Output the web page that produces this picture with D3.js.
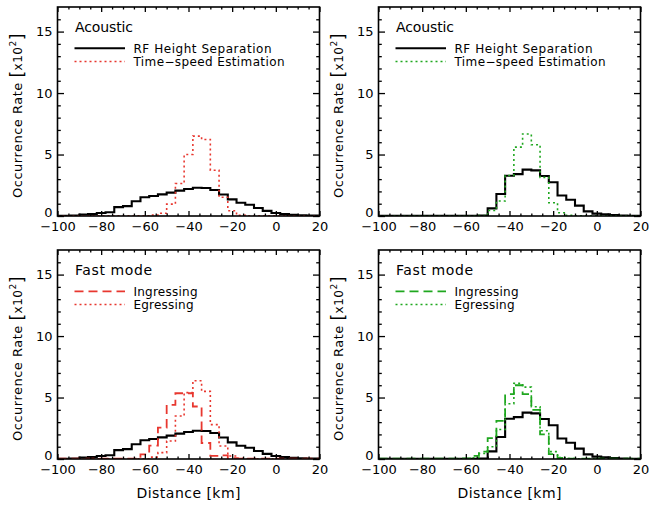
<!DOCTYPE html>
<html><head><meta charset="utf-8">
<script src="https://cdn.jsdelivr.net/npm/d3@7"></script>
<style>
body{margin:0;background:#fff}
svg{display:block}
text{font-family:"DejaVu Sans",sans-serif;fill:#000}
</style>
</head><body>
<svg id="chart" width="649" height="506"></svg>
<script>
// ---- data (occurrence rate, x10^2) ----
const distance = [-100,-96,-92,-88,-84,-80,-76,-72,-68,-64,-60,-56,-52,-48,-44,-40,-36,-32,-28,-24,-20,-16,-12,-8,-4,0,4,8,12,16,20];

const rfLeft   = [0.02,0.02,0.03,0.12,0.15,0.25,0.3,0.72,0.8,1.2,1.52,1.63,1.76,1.9,2.06,2.2,2.3,2.28,2.12,1.75,1.35,1.08,0.92,0.65,0.42,0.24,0.15,0.1,0.06,0.04,0.03];
const tsRed    = [0.02,0.02,0.02,0.02,0.02,0.02,0.02,0.02,0.02,0.02,0.02,0.08,0.22,0.97,2.64,5.0,6.5,6.22,3.72,1.52,0.43,0.06,0.02,0.02,0.02,0.02,0.02,0.02,0.02,0.02,0.02];

const rfRight  = [0.01,0.01,0.01,0.01,0.01,0.01,0.01,0.01,0.01,0.01,0.01,0.01,0.03,0.62,1.79,3.28,3.41,3.77,3.71,3.25,2.74,1.67,1.32,0.84,0.38,0.19,0.14,0.08,0.04,0.02,0.01];
const tsGreen  = [0.02,0.02,0.02,0.02,0.02,0.02,0.02,0.02,0.02,0.02,0.02,0.02,0.03,0.45,1.22,3.3,5.6,6.67,5.8,3.14,1.08,0.27,0.05,0.02,0.02,0.02,0.02,0.02,0.02,0.02,0.02];

const ingRed   = [0.02,0.02,0.02,0.02,0.02,0.02,0.02,0.02,0.02,0.02,0.38,1.08,2.55,4.4,5.35,5.35,4.27,1.3,0.25,0.3,0.06,0.02,0.02,0.02,0.02,0.02,0.02,0.02,0.02,0.02,0.02];
const egrRed   = [0.02,0.02,0.02,0.02,0.02,0.02,0.02,0.02,0.02,0.02,0.02,0.15,0.52,1.47,3.5,5.4,6.36,5.5,2.8,1.06,0.24,0.05,0.02,0.02,0.02,0.02,0.02,0.02,0.02,0.02,0.02];

const ingGreen = [0.02,0.02,0.02,0.02,0.02,0.02,0.02,0.02,0.02,0.02,0.05,0.25,0.6,1.7,3.1,5.27,6.0,5.27,4.0,2.0,0.4,0.08,0.02,0.02,0.02,0.02,0.02,0.02,0.02,0.02,0.02];
const egrGreen = [0.02,0.02,0.02,0.02,0.02,0.02,0.02,0.02,0.02,0.02,0.02,0.1,0.45,1.0,2.4,4.5,6.15,5.85,4.25,2.3,0.6,0.12,0.03,0.02,0.02,0.02,0.02,0.02,0.02,0.02,0.02];

const xTicks = [-100,-80,-60,-40,-20,0,20];
const xMinorTicks = [-95,-90,-85,-75,-70,-65,-55,-50,-45,-35,-30,-25,-15,-10,-5,5,10,15];
const yTicks = [0,5,10,15];
const yMinorTicks = [1,2,3,4,6,7,8,9,11,12,13,14,16];
const xDomain = [-100,20];
const yDomain = [0,17];

const RED = "#e8372f", GREEN = "#1fa71f";
const DOT = "2,3", DASH = "9,5";

const panels = [
  {left:57.5,  top:7,   title:"Acoustic",
   series:[{v:rfLeft,c:"#000",d:null,w:2.1},{v:tsRed,c:RED,d:DOT,w:1.6}],
   legend:[{t:"RF Height Separation",c:"#000",d:null,w:2.1,len:138},{t:"Time\u2212speed Estimation",c:RED,d:DOT,w:1.6,len:151}],
   tlen:58, xtitle:false},
  {left:378.5, top:7,   title:"Acoustic",
   series:[{v:rfRight,c:"#000",d:null,w:2.1},{v:tsGreen,c:GREEN,d:DOT,w:1.6}],
   legend:[{t:"RF Height Separation",c:"#000",d:null,w:2.1,len:138},{t:"Time\u2212speed Estimation",c:GREEN,d:DOT,w:1.6,len:151}],
   tlen:58, xtitle:false},
  {left:57.5,  top:250, title:"Fast mode",
   series:[{v:rfLeft,c:"#000",d:null,w:2.1},{v:ingRed,c:RED,d:DASH,w:1.8},{v:egrRed,c:RED,d:DOT,w:1.6}],
   legend:[{t:"Ingressing",c:RED,d:DASH,w:1.8,len:64},{t:"Egressing",c:RED,d:DOT,w:1.6,len:60}],
   tlen:77, xtitle:true},
  {left:378.5, top:250, title:"Fast mode",
   series:[{v:rfRight,c:"#000",d:null,w:2.1},{v:ingGreen,c:GREEN,d:DASH,w:1.8},{v:egrGreen,c:GREEN,d:DOT,w:1.6}],
   legend:[{t:"Ingressing",c:GREEN,d:DASH,w:1.8,len:64},{t:"Egressing",c:GREEN,d:DOT,w:1.6,len:60}],
   tlen:77, xtitle:true}
];

const PW = 262, PH = 209;
const svg = d3.select("#chart");
svg.append("rect").attr("width",649).attr("height",506).attr("fill","#fff");

panels.forEach((p,i) => {
  const g = svg.append("g").attr("transform",`translate(${p.left},${p.top})`);
  const x = d3.scaleLinear().domain(xDomain).range([0,PW]);
  const y = d3.scaleLinear().domain(yDomain).range([PH,0]);

  const cid = "clip"+i;
  g.append("clipPath").attr("id",cid).append("rect").attr("width",PW).attr("height",PH);

  // histograms
  const line = d3.line().x(d=>x(d[0])).y(d=>y(d[1])).curve(d3.curveStep);
  p.series.forEach(s => {
    g.append("path")
      .attr("clip-path",`url(#${cid})`)
      .attr("d", line(distance.map((dv,k)=>[dv,s.v[k]])))
      .attr("fill","none").attr("stroke",s.c).attr("stroke-width",s.w)
      .attr("stroke-dasharray",s.d)
      .attr("stroke-linejoin","miter");
  });

  // axes
  const styleAxis = sel => { sel.select(".domain").remove(); sel.selectAll("line").attr("stroke","#000").attr("stroke-width",1.3); sel.selectAll("text").attr("font-size",13).attr("font-family","DejaVu Sans"); };
  g.append("g").attr("transform",`translate(0,${PH})`)
    .call(d3.axisBottom(x).tickValues(xTicks).tickSize(-5).tickPadding(6).tickFormat(d3.format("d"))).call(styleAxis);
  g.append("g").attr("transform",`translate(0,${PH})`)
    .call(d3.axisBottom(x).tickValues(xMinorTicks).tickSize(-2.5).tickFormat("")).call(styleAxis);
  g.append("g").call(d3.axisTop(x).tickValues(xTicks).tickSize(-5).tickFormat("")).call(styleAxis);
  g.append("g").call(d3.axisTop(x).tickValues(xMinorTicks).tickSize(-2.5).tickFormat("")).call(styleAxis);
  const ya = g.append("g").call(d3.axisLeft(y).tickValues(yTicks).tickSize(-6.5).tickPadding(5)).call(styleAxis);
  ya.selectAll(".tick").filter(d=>d===0).select("text").attr("y",-4);
  g.append("g").call(d3.axisLeft(y).tickValues(yMinorTicks).tickSize(-3.3).tickFormat("")).call(styleAxis);
  g.append("g").attr("transform",`translate(${PW},0)`).call(d3.axisRight(y).tickValues(yTicks).tickSize(-6.5).tickFormat("")).call(styleAxis);
  g.append("g").attr("transform",`translate(${PW},0)`).call(d3.axisRight(y).tickValues(yMinorTicks).tickSize(-3.3).tickFormat("")).call(styleAxis);

  g.append("rect").attr("width",PW).attr("height",PH).attr("fill","none").attr("stroke","#000").attr("stroke-width",1.6);

  // y title
  const yt = svg.append("text")
    .attr("transform",`translate(${p.left-36},${p.top+191}) rotate(-90)`)
    .attr("font-size",13).attr("letter-spacing",0.5);
  yt.append("tspan").text("Occurrence Rate ");
  yt.append("tspan").attr("font-size",17).attr("dy",1).text("[");
  yt.append("tspan").attr("font-size",12).attr("dy",-1).text("x10");
  yt.append("tspan").attr("font-size",9).attr("dy",-6).text("2");
  yt.append("tspan").attr("font-size",17).attr("dy",7).text("]");

  // x title
  if (p.xtitle) {
    svg.append("text").attr("x",p.left+PW/2).attr("y",498).attr("text-anchor","middle")
      .attr("font-size",14).attr("textLength",104).attr("lengthAdjust","spacing").text("Distance [km]");
  }

  // legend
  g.append("text").attr("x",17.5).attr("y",24.7).attr("font-size",14)
    .attr("textLength",p.tlen).attr("lengthAdjust","spacing").text(p.title);
  p.legend.forEach((l,k) => {
    const ly = 41.3 + k*13.2;
    g.append("line").attr("x1",17).attr("x2",67.5).attr("y1",ly).attr("y2",ly)
      .attr("stroke",l.c).attr("stroke-width",l.w).attr("stroke-dasharray",l.d);
    g.append("text").attr("x",76).attr("y",ly+4.3).attr("font-size",12)
      .attr("textLength",l.len).attr("lengthAdjust","spacing").text(l.t);
  });
});
</script>
</body></html>
